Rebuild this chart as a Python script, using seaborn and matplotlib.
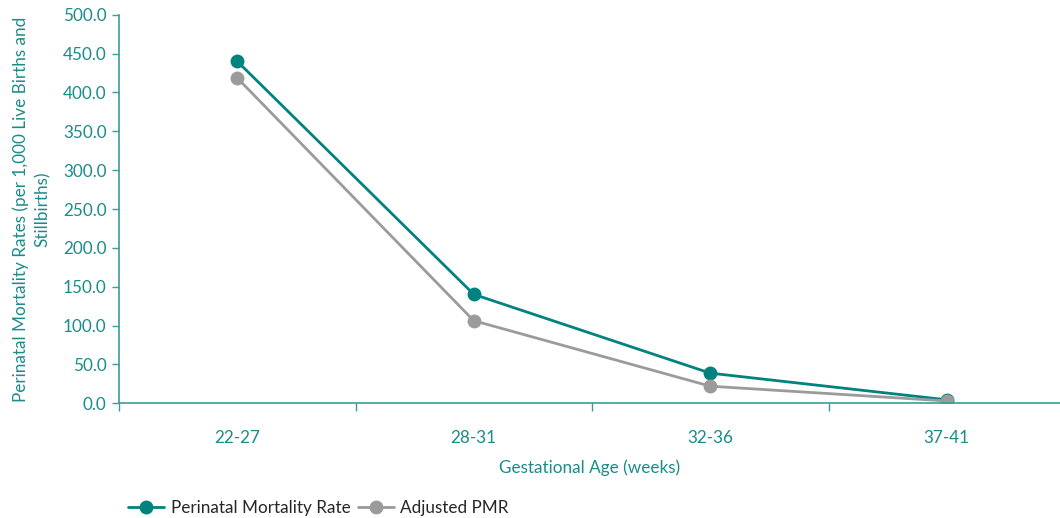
import numpy as np
import pandas as pd
import matplotlib
matplotlib.use("Agg")
import matplotlib.pyplot as plt
import seaborn as sns

# Werte
age_groups = ["22-27", "28-31", "32-36", "37-41"]
pmr = [440.0, 140.2, 38.8, 4.5]
adjusted_pmr = [418.6, 106.3, 22.0, 3.0]
series_names = ["Perinatal Mortality Rate", "Adjusted PMR"]
y_ticks = [0, 50, 100, 150, 200, 250, 300, 350, 400, 450, 500]

TEAL = "#00827F"
GREY = "#9B9B9B"
TEXT = "#1A8C8A"
SPINE = "#3D9B99"
FS = 12.3

df = pd.DataFrame({
    "age": age_groups * 2,
    "rate": pmr + adjusted_pmr,
    "series": [series_names[0]] * 4 + [series_names[1]] * 4,
})

sns.set_style("white")
plt.rcParams["font.family"] = ["Lato", "DejaVu Sans"]

fig = plt.figure(figsize=(10.6, 5.18), dpi=100)
ax = fig.add_axes([119 / 1060, 1 - 403.3 / 518, 946 / 1060, 388.6 / 518])

sns.lineplot(data=df, x="age", y="rate", hue="series", hue_order=series_names,
             palette=[TEAL, GREY], marker="o", markersize=10, markeredgewidth=0,
             linewidth=2, ax=ax, legend=True)

ax.set_xlim(-0.5, 3.5)
ax.set_ylim(0, 500)
ax.set_yticks(y_ticks)
ax.set_yticklabels([f"{v:.1f}" for v in y_ticks])
ax.set_xticks([0, 1, 2, 3])
ax.set_xticklabels(age_groups)
ax.set_xticks([-0.5, 0.5, 1.5, 2.5, 3.5], minor=True)

for s in ["top", "right"]:
    ax.spines[s].set_visible(False)
for s in ["left", "bottom"]:
    ax.spines[s].set_color(SPINE)
    ax.spines[s].set_linewidth(1.2)

ax.tick_params(axis="y", which="major", length=5, width=1, color=SPINE,
               labelcolor=TEXT, labelsize=FS, pad=4, left=True)
ax.tick_params(axis="x", which="major", length=0, labelcolor=TEXT,
               labelsize=FS, pad=19, bottom=True)
ax.tick_params(axis="x", which="minor", length=6, width=1, color=SPINE, bottom=True)

ax.set_xlabel("Gestational Age (weeks)", color=TEXT, fontsize=FS)
ax.xaxis.set_label_coords(471 / 946, -56 / 388.6)
ax.set_ylabel("Perinatal Mortality Rates (per 1,000 Live Births and\nStillbirths)",
              color=TEXT, fontsize=FS, linespacing=1.42)
ax.yaxis.set_label_coords(-68 / 946, 0.5)

handles, labels = ax.get_legend_handles_labels()
ax.get_legend().remove()
fig.legend(handles, labels, loc="lower left", bbox_to_anchor=(113 / 1060, -0.025),
           ncol=2, frameon=False, fontsize=FS, handlelength=2.1,
           handletextpad=0.4, columnspacing=0.4, labelcolor="#262626")

fig.savefig("out.png", dpi=100)
